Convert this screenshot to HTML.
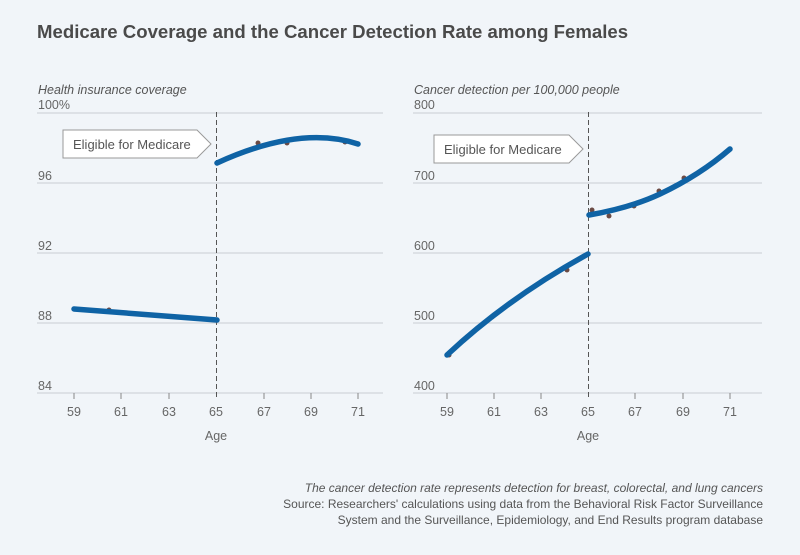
<!DOCTYPE html>
<html><head><style>
body{margin:0;width:800px;height:550px;background:#f1f5f9;font-family:"Liberation Sans",sans-serif;overflow:hidden}
</style></head><body>
<svg width="800" height="550" xmlns="http://www.w3.org/2000/svg" font-family="Liberation Sans, sans-serif">
<rect width="800" height="550" fill="#f1f5f9"/>
<text x="37" y="38" font-size="18.6" font-weight="bold" fill="#4a4a4a">Medicare Coverage and the Cancer Detection Rate among Females</text>
<text x="38" y="94" font-size="12.5" font-style="italic" fill="#555">Health insurance coverage</text>
<g stroke="#c9cdd2" stroke-width="1">
<line x1="37" x2="383" y1="113" y2="113"/><line x1="37" x2="383" y1="183" y2="183"/><line x1="37" x2="383" y1="253" y2="253"/><line x1="37" x2="383" y1="323" y2="323"/><line x1="37" x2="383" y1="393" y2="393"/>
<line x1="413" x2="762" y1="113" y2="113"/><line x1="413" x2="762" y1="183" y2="183"/><line x1="413" x2="762" y1="253" y2="253"/><line x1="413" x2="762" y1="323" y2="323"/><line x1="413" x2="762" y1="393" y2="393"/>
</g>
<g font-size="12.5" fill="#666">
<text x="38" y="109">100%</text><text x="38" y="180">96</text><text x="38" y="250">92</text><text x="38" y="320">88</text><text x="38" y="390">84</text>
<text x="414" y="109">800</text><text x="414" y="180">700</text><text x="414" y="250">600</text><text x="414" y="320">500</text><text x="414" y="390">400</text>
</g>
<g stroke="#888" stroke-width="1">
<line x1="74" x2="74" y1="393" y2="399"/><line x1="121" x2="121" y1="393" y2="399"/><line x1="169" x2="169" y1="393" y2="399"/><line x1="264" x2="264" y1="393" y2="399"/><line x1="311" x2="311" y1="393" y2="399"/><line x1="358" x2="358" y1="393" y2="399"/>
<line x1="447" x2="447" y1="393" y2="399"/><line x1="494" x2="494" y1="393" y2="399"/><line x1="541" x2="541" y1="393" y2="399"/><line x1="635" x2="635" y1="393" y2="399"/><line x1="683" x2="683" y1="393" y2="399"/><line x1="730" x2="730" y1="393" y2="399"/>
</g>
<g stroke="#555" stroke-width="1" stroke-dasharray="5,3">
<line x1="216.5" x2="216.5" y1="112" y2="399"/><line x1="588.5" x2="588.5" y1="112" y2="399"/>
</g>
<g font-size="12.5" fill="#666" text-anchor="middle">
<text x="74" y="416">59</text><text x="121" y="416">61</text><text x="169" y="416">63</text><text x="216" y="416">65</text><text x="264" y="416">67</text><text x="311" y="416">69</text><text x="358" y="416">71</text>
<text x="447" y="416">59</text><text x="494" y="416">61</text><text x="541" y="416">63</text><text x="588" y="416">65</text><text x="635" y="416">67</text><text x="683" y="416">69</text><text x="730" y="416">71</text>
<text x="216" y="440">Age</text><text x="588" y="440">Age</text>
</g>
<text x="414" y="94" font-size="12.5" font-style="italic" fill="#555">Cancer detection per 100,000 people</text>
<path d="M63 130 H197 L211 144 L197 158 H63 Z" fill="#fff" stroke="#999"/>
<text x="73" y="149" font-size="13" fill="#555">Eligible for Medicare</text>
<path d="M434 135 H569 L583 149 L569 163 H434 Z" fill="#fff" stroke="#999"/>
<text x="444" y="154" font-size="13" fill="#555">Eligible for Medicare</text>
<g fill="#6b4a44">
<circle cx="109" cy="310" r="2.5"/><circle cx="258" cy="143" r="2.5"/><circle cx="287" cy="143" r="2.5"/><circle cx="345" cy="142" r="2.5"/>
<circle cx="449" cy="355" r="2.5"/><circle cx="467" cy="337" r="2.5"/><circle cx="492" cy="317" r="2.5"/><circle cx="541" cy="282" r="2.5"/><circle cx="567" cy="270" r="2.5"/><circle cx="592" cy="210" r="2.5"/><circle cx="609" cy="216" r="2.5"/><circle cx="634" cy="206" r="2.5"/><circle cx="659" cy="191" r="2.5"/><circle cx="684" cy="178" r="2.5"/>
</g>
<g fill="none" stroke="#0f63a5" stroke-width="5.5" stroke-linecap="round">
<path d="M74 309 L217 320"/>
<path d="M217 163 Q300 125 358 144"/>
<path d="M447 355 Q508 298 588 254"/>
<path d="M589 215 Q630 208 660 194 Q700 175 730 149"/>
</g>
<g font-size="12" fill="#555" text-anchor="end">
<text x="763" y="492" font-style="italic">The cancer detection rate represents detection for breast, colorectal, and lung cancers</text>
<text x="763" y="508">Source: Researchers' calculations using data from the Behavioral Risk Factor Surveillance</text>
<text x="763" y="524">System and the Surveillance, Epidemiology, and End Results program database</text>
</g>
</svg>
</body></html>
